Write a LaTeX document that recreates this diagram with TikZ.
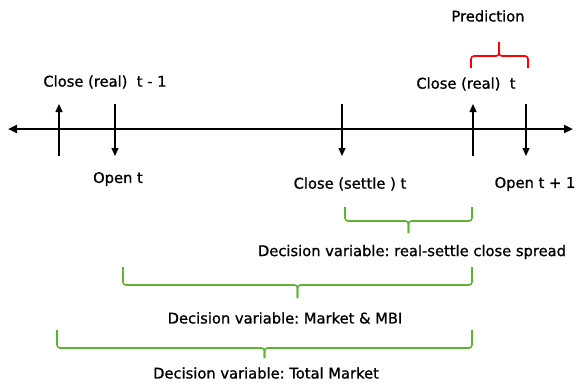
\documentclass[tikz,border=0pt]{standalone}
\usepackage{fontspec}
\setmainfont[FakeBold=1]{DejaVu Sans}
\frenchspacing
\usetikzlibrary{arrows.meta,positioning,calc}
\definecolor{dvgreen}{HTML}{5FB233}

\begin{document}
\begin{tikzpicture}[x=1pt,y=-1pt,font=\fontsize{14.7}{16}\selectfont,>={Triangle[length=8pt,width=7pt]},
  tick/.style={line width=1.1pt},
  brace/.style={line width=1.6pt,rounded corners=3pt},
  lbl/.style={inner sep=0pt}]
\useasboundingbox (0,0) rectangle (587,391);
% time axis
\coordinate (aL) at (8,129); \coordinate (aR) at (573,129);
\draw[line width=2.4pt,{Triangle[length=9pt,width=8pt]}-{Triangle[length=9pt,width=8pt]}] (aL)--(aR);
% up ticks (real closes), down ticks (opens, settle)
\foreach \n/\x in {c0/59,o1/115,s1/342,c1/473,o2/526}{
  \coordinate (\n t) at (\x,104); \coordinate (\n b) at (\x,156);}
\foreach \n in {c0,c1}{\draw[tick,->] (\n b)--(\n t);}
\foreach \n in {o1,s1,o2}{\draw[tick,->] (\n t)--(\n b);}
\node[lbl] (lc0) at (105,82){Close (real)\ \ t - 1};
\node[lbl] (lo1) at (118,179){Open t};
\node[lbl] (ls1) at (350,184){Close (settle ) t};
\node[lbl] (lc1) at (466,84){Close (real)\ \ t};
\node[lbl] (lo2) at (535,184){Open t + 1};
% prediction brace
\coordinate (p1) at (471,68); \coordinate (p2) at (528,68); \coordinate (pm) at (499,42);
\draw[brace,red] (p1)|-($(pm)+(0,14)$)--(pm); \draw[brace,red] (p2)|-($(pm)+(0,14)$)--(pm);
\node[lbl] (lp) at (488,16){Prediction};
% decision variable braces
\foreach \n/\xa/\xb/\yt/\yh/\yb in {d1/345/472/207/221/233,d2/123/472/267/285/298,d3/57/472/330/348/358}{
  \coordinate (\n a) at (\xa,\yt); \coordinate (\n b) at (\xb,\yt);
  \coordinate (\n m) at ({(\xa+\xb)/2},\yb);
  \draw[brace,dvgreen] (\n a)|-($(\n m)+(0,\yh-\yb)$)--(\n m);
  \draw[brace,dvgreen] (\n b)|-($(\n m)+(0,\yh-\yb)$)--(\n m);}
\node[lbl] (ld1) at (412,252){Decision variable: real-settle close spread};
\node[lbl] (ld2) at (285,318){Decision variable: Market \& MBI};
\node[lbl] (ld3) at (266,373){Decision variable: Total Market};
\end{tikzpicture}
\end{document}
